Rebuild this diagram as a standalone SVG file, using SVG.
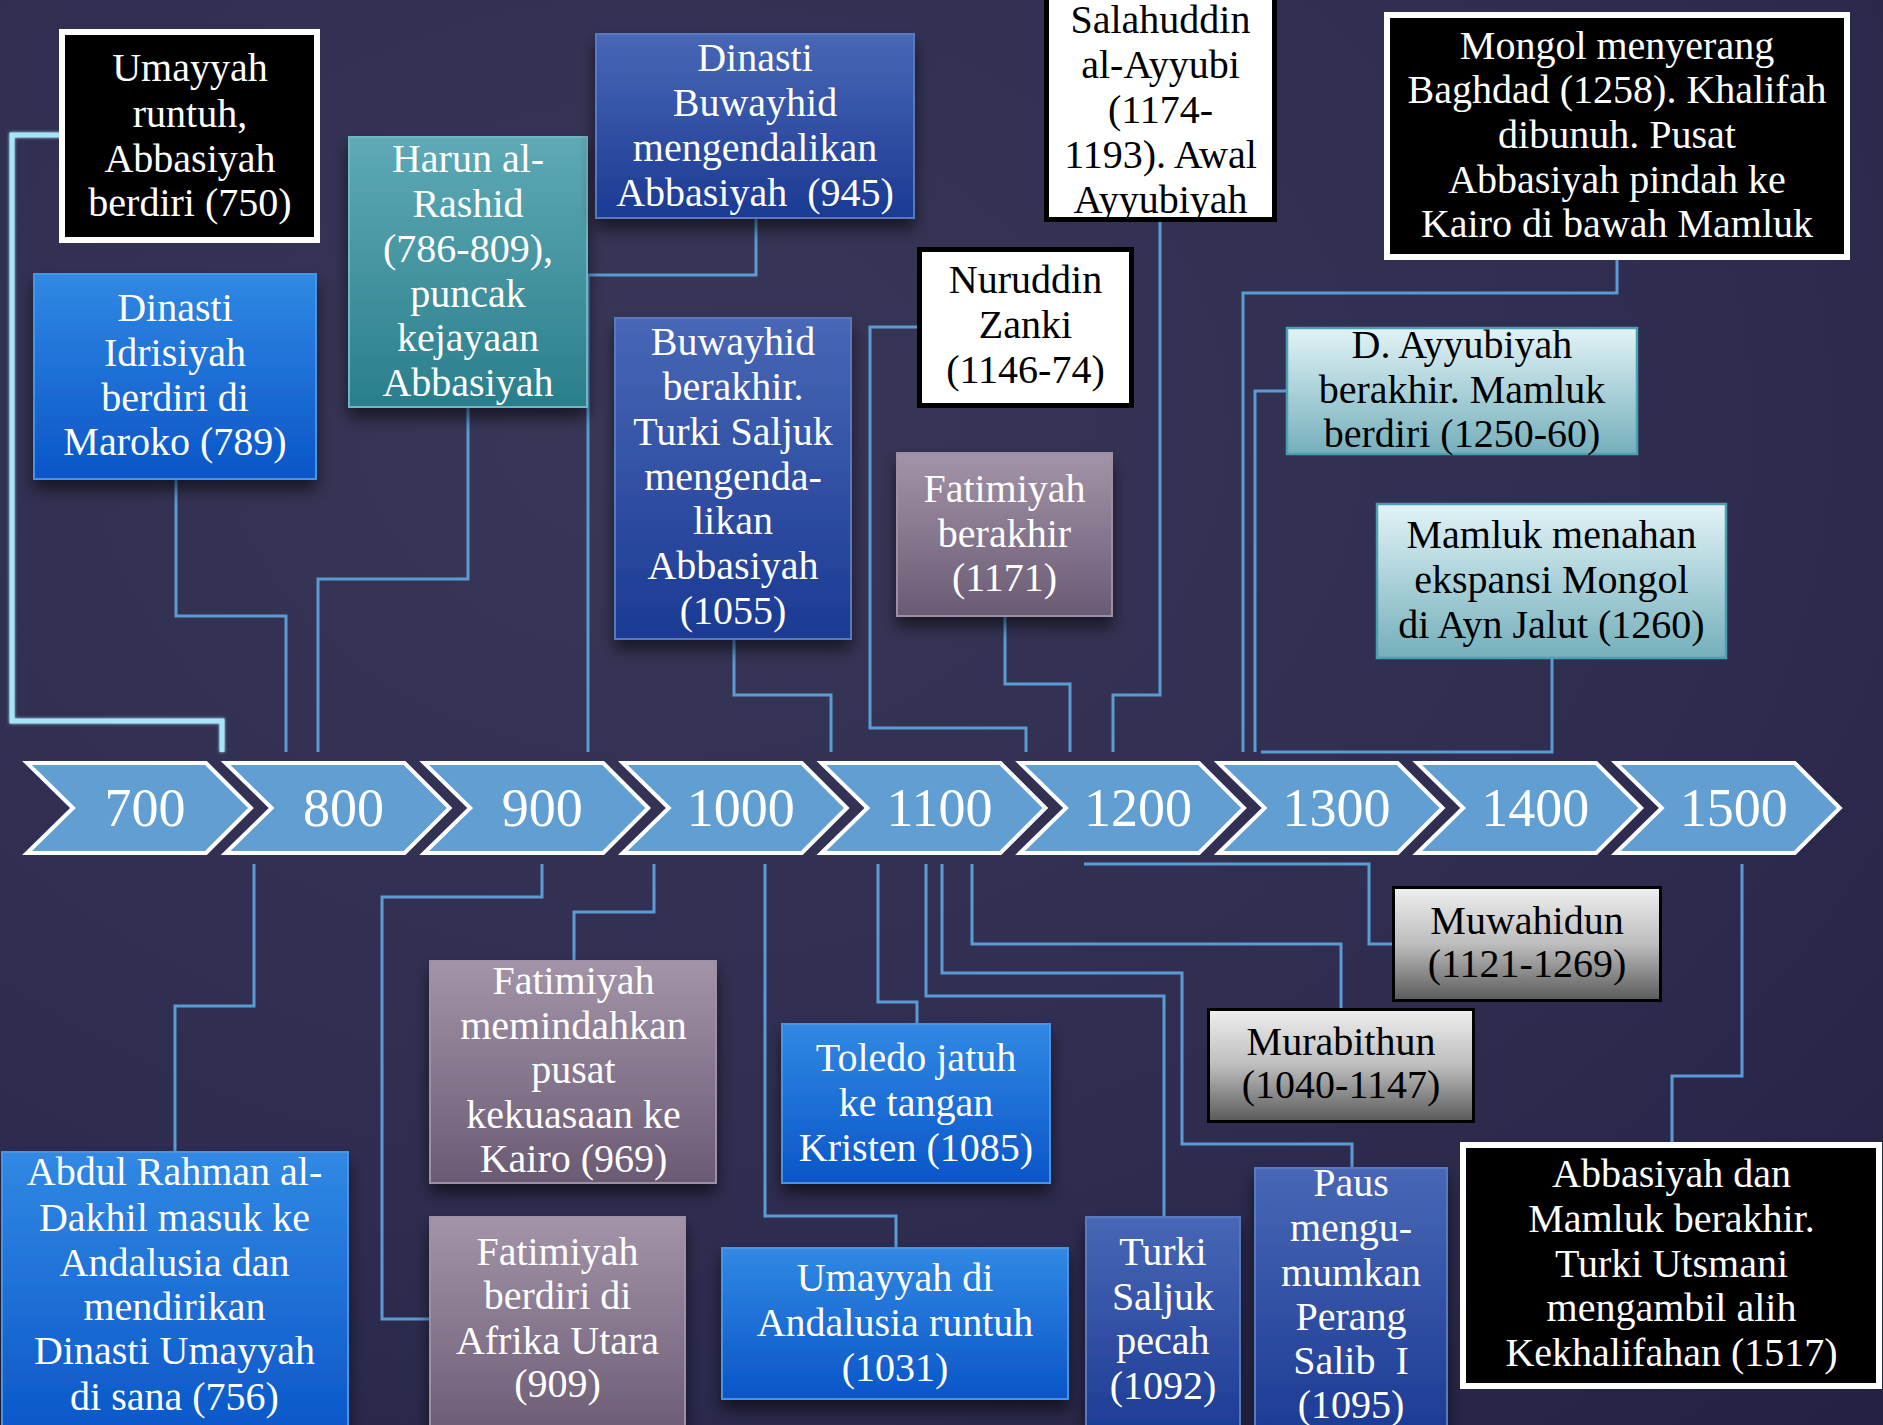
<svg xmlns="http://www.w3.org/2000/svg" width="1883" height="1425" viewBox="0 0 1883 1425">
<defs>
<radialGradient id="bg" cx="0.35" cy="0.3" r="0.95">
<stop offset="0" stop-color="#393757"/>
<stop offset="0.6" stop-color="#2e2d50"/>
<stop offset="1" stop-color="#232245"/>
</radialGradient>
<linearGradient id="gBlue" x1="0" y1="0" x2="0" y2="1"><stop offset="0" stop-color="#3189e3"/><stop offset="1" stop-color="#0a55c8"/></linearGradient>
<linearGradient id="gNavy" x1="0" y1="0" x2="0" y2="1"><stop offset="0" stop-color="#4867b6"/><stop offset="1" stop-color="#1b3a93"/></linearGradient>
<linearGradient id="gTeal" x1="0" y1="0" x2="0" y2="1"><stop offset="0" stop-color="#5eaab6"/><stop offset="1" stop-color="#2a7e8b"/></linearGradient>
<linearGradient id="gMauve" x1="0" y1="0" x2="0" y2="1"><stop offset="0" stop-color="#a394a9"/><stop offset="1" stop-color="#6a5a73"/></linearGradient>
<linearGradient id="gLight" x1="0" y1="0" x2="0" y2="1"><stop offset="0" stop-color="#e2f3f7"/><stop offset="1" stop-color="#74afbb"/></linearGradient>
<linearGradient id="gGray" x1="0" y1="0" x2="0" y2="1"><stop offset="0" stop-color="#efefef"/><stop offset="0.5" stop-color="#bdbdbd"/><stop offset="1" stop-color="#5a5a5a"/></linearGradient>
<filter id="sh" x="-15%" y="-15%" width="130%" height="145%">
<feDropShadow dx="0" dy="10" stdDeviation="8" flood-color="#000" flood-opacity="0.55"/>
</filter>
<filter id="glow" x="-5%" y="-5%" width="110%" height="110%">
<feGaussianBlur stdDeviation="1.5" result="b"/>
<feMerge><feMergeNode in="b"/><feMergeNode in="SourceGraphic"/></feMerge>
</filter>
<path id="chev" d="M0,0 H179 L224,45 L179,90 H0 L46,45 Z"/>
</defs>
<style>
.t{font-family:"Liberation Serif","DejaVu Serif",serif;font-size:40px;text-anchor:middle}
.w{fill:#ffffff}
.k{fill:#000000}
.yr{font-family:"Liberation Serif","DejaVu Serif",serif;font-size:54px;text-anchor:middle;fill:#ffffff}
.chev{fill:#619ed2;stroke:#ffffff;stroke-width:4;stroke-linejoin:miter}
.blk{fill:#000000;stroke:#ffffff;stroke-width:6}
.wht{fill:#ffffff;stroke:#000000;stroke-width:5}
.blue{fill:url(#gBlue);stroke:#4a93e3;stroke-width:2;filter:url(#sh)}
.navy{fill:url(#gNavy);stroke:#5a78c2;stroke-width:2;filter:url(#sh)}
.teal{fill:url(#gTeal);stroke:#6fb6c0;stroke-width:2;filter:url(#sh)}
.mauve{fill:url(#gMauve);stroke:#9e90a4;stroke-width:2;filter:url(#sh)}
.light{fill:url(#gLight);stroke:#4aa0b0;stroke-width:2.5}
.gray{fill:url(#gGray);stroke:#000000;stroke-width:3}
.c{fill:none;stroke:#5b9bd5;stroke-width:3}
.cc{fill:none;stroke:#a8e4f8;stroke-width:5}
</style>
<rect x="0" y="0" width="1883" height="1425" fill="url(#bg)"/>

<g id="connectors">
<polyline class="cc" filter="url(#glow)" points="60,135 12,135 12,721 222,721 222,752"/>
<polyline class="c" points="176,479 176,616 286,616 286,752"/>
<polyline class="c" points="468,407 468,579 318,579 318,752"/>
<polyline class="c" points="756,218 756,275 588,275 588,752"/>
<polyline class="c" points="734,639 734,695 831,695 831,752"/>
<polyline class="c" points="917,327 870,327 870,728 1026,728 1026,752"/>
<polyline class="c" points="1005,616 1005,684 1070,684 1070,752"/>
<polyline class="c" points="1160,222 1160,695 1113,695 1113,752"/>
<polyline class="c" points="1617,260 1617,293 1243,293 1243,752"/>
<polyline class="c" points="1287,391 1255,391 1255,752"/>
<polyline class="c" points="1552,658 1552,752 1261,752"/>
<polyline class="c" points="254,864 254,1006 175,1006 175,1152"/>
<polyline class="c" points="542,864 542,897 382,897 382,1319 430,1319"/>
<polyline class="c" points="654,864 654,912 574,912 574,961"/>
<polyline class="c" points="765,864 765,1216 896,1216 896,1248"/>
<polyline class="c" points="878,864 878,1002 917,1002 917,1024"/>
<polyline class="c" points="926,864 926,996 1164,996 1164,1217"/>
<polyline class="c" points="942,864 942,973 1182,973 1182,1144 1352,1144 1352,1168"/>
<polyline class="c" points="972,864 972,944 1341,944 1341,1008"/>
<polyline class="c" points="1084,864 1369,864 1369,944 1393,944"/>
<polyline class="c" points="1742,864 1742,1076 1672,1076 1672,1143"/>
</g>

<g id="timeline">
<g id="y700"><use href="#chev" class="chev" transform="translate(27,763)"/><text class="yr" x="145" y="826">700</text></g>
<g id="y800"><use href="#chev" class="chev" transform="translate(225.6,763)"/><text class="yr" x="343.6" y="826">800</text></g>
<g id="y900"><use href="#chev" class="chev" transform="translate(424.2,763)"/><text class="yr" x="542.2" y="826">900</text></g>
<g id="y1000"><use href="#chev" class="chev" transform="translate(622.8,763)"/><text class="yr" x="740.8" y="826">1000</text></g>
<g id="y1100"><use href="#chev" class="chev" transform="translate(821.4,763)"/><text class="yr" x="939.4" y="826">1100</text></g>
<g id="y1200"><use href="#chev" class="chev" transform="translate(1020,763)"/><text class="yr" x="1138" y="826">1200</text></g>
<g id="y1300"><use href="#chev" class="chev" transform="translate(1218.6,763)"/><text class="yr" x="1336.6" y="826">1300</text></g>
<g id="y1400"><use href="#chev" class="chev" transform="translate(1417.2,763)"/><text class="yr" x="1535.2" y="826">1400</text></g>
<g id="y1500"><use href="#chev" class="chev" transform="translate(1615.8,763)"/><text class="yr" x="1733.8" y="826">1500</text></g>
</g>

<g id="n-umayyah-runtuh">
<rect class="blk" x="62" y="32" width="255" height="208"/>
<text class="t w" x="190"><tspan x="190" y="81">Umayyah</tspan><tspan x="190" y="127">runtuh,</tspan><tspan x="190" y="172">Abbasiyah</tspan><tspan x="190" y="216">berdiri (750)</tspan></text>
</g>
<g id="n-idrisiyah">
<rect class="blue" x="34" y="274" width="282" height="205"/>
<text class="t w" x="175"><tspan x="175" y="321">Dinasti</tspan><tspan x="175" y="366">Idrisiyah</tspan><tspan x="175" y="411">berdiri di</tspan><tspan x="175" y="455">Maroko (789)</tspan></text>
</g>
<g id="n-harun">
<rect class="teal" x="349" y="137" width="238" height="270"/>
<text class="t w" x="468"><tspan x="468" y="172">Harun al-</tspan><tspan x="468" y="217">Rashid</tspan><tspan x="468" y="262">(786-809),</tspan><tspan x="468" y="307">puncak</tspan><tspan x="468" y="351">kejayaan</tspan><tspan x="468" y="396">Abbasiyah</tspan></text>
</g>
<g id="n-buwayhid-945">
<rect class="navy" x="596" y="34" width="318" height="184"/>
<text class="t w" x="755"><tspan x="755" y="71">Dinasti</tspan><tspan x="755" y="116">Buwayhid</tspan><tspan x="755" y="161">mengendalikan</tspan><tspan x="755" y="206">Abbasiyah&#160; (945)</tspan></text>
</g>
<g id="n-buwayhid-1055">
<rect class="navy" x="615" y="318" width="236" height="321"/>
<text class="t w" x="733"><tspan x="733" y="355">Buwayhid</tspan><tspan x="733" y="400">berakhir.</tspan><tspan x="733" y="445">Turki Saljuk</tspan><tspan x="733" y="490">mengenda-</tspan><tspan x="733" y="534">likan</tspan><tspan x="733" y="579">Abbasiyah</tspan><tspan x="733" y="624">(1055)</tspan></text>
</g>
<g id="n-nuruddin">
<rect class="wht" x="919.5" y="249.5" width="212" height="156"/>
<text class="t k" x="1025.5"><tspan x="1025.5" y="293">Nuruddin</tspan><tspan x="1025.5" y="338">Zanki</tspan><tspan x="1025.5" y="383">(1146-74)</tspan></text>
</g>
<g id="n-salahuddin">
<rect class="wht" x="1046.5" y="-5" width="228" height="224.5"/>
<text class="t k" x="1160.5"><tspan x="1160.5" y="33">Salahuddin</tspan><tspan x="1160.5" y="78">al-Ayyubi</tspan><tspan x="1160.5" y="123">(1174-</tspan><tspan x="1160.5" y="168">1193). Awal</tspan><tspan x="1160.5" y="213">Ayyubiyah</tspan></text>
</g>
<g id="n-fatimiyah-1171">
<rect class="mauve" x="897" y="453" width="215" height="163"/>
<text class="t w" x="1004.5"><tspan x="1004.5" y="502">Fatimiyah</tspan><tspan x="1004.5" y="547">berakhir</tspan><tspan x="1004.5" y="591">(1171)</tspan></text>
</g>
<g id="n-mongol">
<rect class="blk" x="1387" y="15" width="460" height="242"/>
<text class="t w" x="1617"><tspan x="1617" y="59">Mongol menyerang</tspan><tspan x="1617" y="103">Baghdad (1258). Khalifah</tspan><tspan x="1617" y="148">dibunuh. Pusat</tspan><tspan x="1617" y="193">Abbasiyah pindah ke</tspan><tspan x="1617" y="237">Kairo di bawah Mamluk</tspan></text>
</g>
<g id="n-ayyubiyah-end">
<rect class="light" x="1287" y="328" width="350" height="126"/>
<text class="t k" x="1462"><tspan x="1462" y="358">D. Ayyubiyah</tspan><tspan x="1462" y="403">berakhir. Mamluk</tspan><tspan x="1462" y="447">berdiri (1250-60)</tspan></text>
</g>
<g id="n-ayn-jalut">
<rect class="light" x="1377" y="504" width="349" height="154"/>
<text class="t k" x="1551.5"><tspan x="1551.5" y="548">Mamluk menahan</tspan><tspan x="1551.5" y="593">ekspansi Mongol</tspan><tspan x="1551.5" y="638">di Ayn Jalut (1260)</tspan></text>
</g>

<g id="n-abdul-rahman">
<rect class="blue" x="2" y="1152" width="346" height="290"/>
<text class="t w" x="174.5"><tspan x="174.5" y="1185">Abdul Rahman al-</tspan><tspan x="174.5" y="1231">Dakhil masuk ke</tspan><tspan x="174.5" y="1276">Andalusia dan</tspan><tspan x="174.5" y="1320">mendirikan</tspan><tspan x="174.5" y="1364">Dinasti Umayyah</tspan><tspan x="174.5" y="1410">di sana (756)</tspan></text>
</g>
<g id="n-fatimiyah-969">
<rect class="mauve" x="430" y="961" width="286" height="222"/>
<text class="t w" x="573.5"><tspan x="573.5" y="994">Fatimiyah</tspan><tspan x="573.5" y="1039">memindahkan</tspan><tspan x="573.5" y="1083">pusat</tspan><tspan x="573.5" y="1128">kekuasaan ke</tspan><tspan x="573.5" y="1172">Kairo (969)</tspan></text>
</g>
<g id="n-fatimiyah-909">
<rect class="mauve" x="430" y="1217" width="255" height="225"/>
<text class="t w" x="557.5"><tspan x="557.5" y="1265">Fatimiyah</tspan><tspan x="557.5" y="1309">berdiri di</tspan><tspan x="557.5" y="1354">Afrika Utara</tspan><tspan x="557.5" y="1397">(909)</tspan></text>
</g>
<g id="n-toledo">
<rect class="blue" x="782" y="1024" width="268" height="159"/>
<text class="t w" x="916"><tspan x="916" y="1071">Toledo jatuh</tspan><tspan x="916" y="1116">ke tangan</tspan><tspan x="916" y="1161">Kristen (1085)</tspan></text>
</g>
<g id="n-umayyah-andalusia">
<rect class="blue" x="722" y="1248" width="346" height="151"/>
<text class="t w" x="895"><tspan x="895" y="1291">Umayyah di</tspan><tspan x="895" y="1336">Andalusia runtuh</tspan><tspan x="895" y="1381">(1031)</tspan></text>
</g>
<g id="n-turki-pecah">
<rect class="navy" x="1086" y="1217" width="154" height="225"/>
<text class="t w" x="1163"><tspan x="1163" y="1265">Turki</tspan><tspan x="1163" y="1310">Saljuk</tspan><tspan x="1163" y="1354">pecah</tspan><tspan x="1163" y="1399">(1092)</tspan></text>
</g>
<g id="n-paus">
<rect class="navy" x="1255" y="1168" width="192" height="274"/>
<text class="t w" x="1351"><tspan x="1351" y="1196">Paus</tspan><tspan x="1351" y="1241">mengu-</tspan><tspan x="1351" y="1286">mumkan</tspan><tspan x="1351" y="1330">Perang</tspan><tspan x="1351" y="1374">Salib&#160; I</tspan><tspan x="1351" y="1418">(1095)</tspan></text>
</g>
<g id="n-muwahidun">
<rect class="gray" x="1393.5" y="887.5" width="267" height="113"/>
<text class="t k" x="1527"><tspan x="1527" y="934">Muwahidun</tspan><tspan x="1527" y="977">(1121-1269)</tspan></text>
</g>
<g id="n-murabithun">
<rect class="gray" x="1208.5" y="1009.5" width="265" height="112"/>
<text class="t k" x="1341"><tspan x="1341" y="1055">Murabithun</tspan><tspan x="1341" y="1098">(1040-1147)</tspan></text>
</g>
<g id="n-abbasiyah-mamluk">
<rect class="blk" x="1463" y="1145" width="416" height="241"/>
<text class="t w" x="1671.5"><tspan x="1671.5" y="1187">Abbasiyah dan</tspan><tspan x="1671.5" y="1232">Mamluk berakhir.</tspan><tspan x="1671.5" y="1277">Turki Utsmani</tspan><tspan x="1671.5" y="1321">mengambil alih</tspan><tspan x="1671.5" y="1366">Kekhalifahan (1517)</tspan></text>
</g>
</svg>
